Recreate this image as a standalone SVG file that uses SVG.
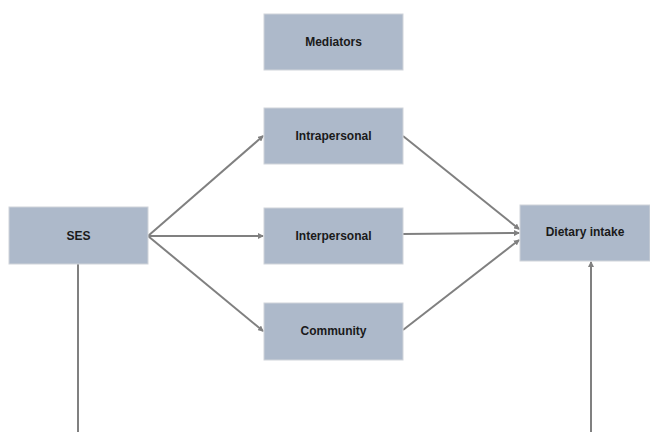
<svg xmlns="http://www.w3.org/2000/svg" width="650" height="432" viewBox="0 0 650 432">
<style>
.box{fill:#adb9ca;stroke:#d0d4da;stroke-width:1}
.lbl{font-family:"Liberation Sans",Arial,sans-serif;font-weight:bold;font-size:12px;fill:#1a1a1a;text-anchor:middle;dominant-baseline:central}
.con{stroke:#808080;stroke-width:2;fill:none}
</style>
<defs>
<marker id="ah" markerWidth="6" markerHeight="6" refX="5" refY="3" orient="auto" markerUnits="userSpaceOnUse">
<path d="M0,0 L6,3 L0,6 z" fill="#808080"/>
</marker>
</defs>
<rect width="650" height="432" fill="#ffffff"/>
<g id="connectors">
<line class="con" x1="148" y1="236" x2="263" y2="136" marker-end="url(#ah)"/>
<line class="con" x1="148" y1="236" x2="263" y2="236" marker-end="url(#ah)"/>
<line class="con" x1="148" y1="236" x2="263" y2="331" marker-end="url(#ah)"/>
<line class="con" x1="403" y1="136" x2="519" y2="229" marker-end="url(#ah)"/>
<line class="con" x1="403" y1="234" x2="519" y2="233" marker-end="url(#ah)"/>
<line class="con" x1="403" y1="330" x2="519" y2="240" marker-end="url(#ah)"/>
<line class="con" x1="78" y1="264" x2="78" y2="432"/>
<line class="con" x1="591" y1="432" x2="591" y2="262" marker-end="url(#ah)"/>
</g>
<g id="mediators"><rect class="box" x="264" y="14" width="139" height="56"/><text class="lbl" x="333.5" y="42">Mediators</text></g>
<g id="intrapersonal"><rect class="box" x="264" y="108" width="139" height="56"/><text class="lbl" x="333.5" y="136">Intrapersonal</text></g>
<g id="interpersonal"><rect class="box" x="264" y="208" width="139" height="56"/><text class="lbl" x="333.5" y="236">Interpersonal</text></g>
<g id="community"><rect class="box" x="264" y="303" width="139" height="57"/><text class="lbl" x="333.5" y="331">Community</text></g>
<g id="ses"><rect class="box" x="9" y="207" width="139" height="57"/><text class="lbl" x="78.5" y="236">SES</text></g>
<g id="dietary"><rect class="box" x="520" y="205" width="130" height="56"/><text class="lbl" x="585" y="232">Dietary intake</text></g>
</svg>
